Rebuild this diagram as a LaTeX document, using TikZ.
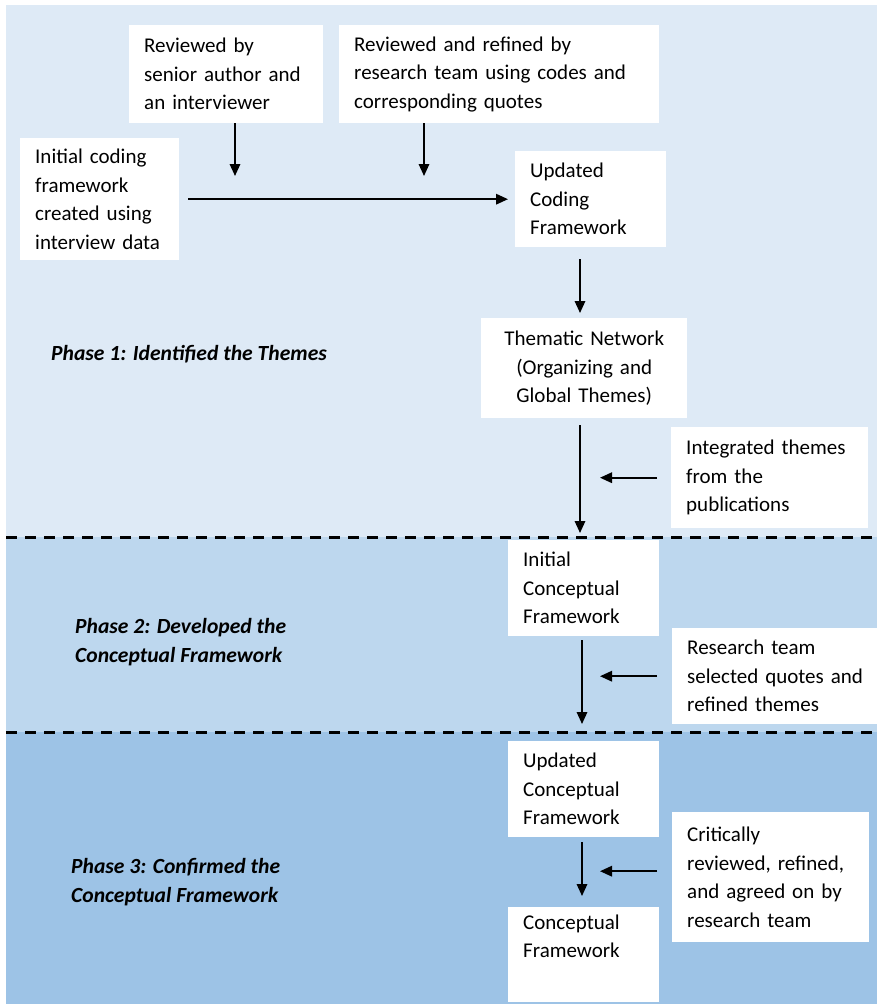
\documentclass[tikz,border=0pt]{standalone}
\usepackage{fontspec}
\setmainfont{Carlito}
\usetikzlibrary{arrows.meta}
\definecolor{phaseA}{HTML}{DEEAF6}
\definecolor{phaseB}{HTML}{BDD7EE}
\definecolor{phaseC}{HTML}{9DC3E6}
\begin{document}
\begin{tikzpicture}[x=1pt,y=-1pt,
  box/.style={fill=white, anchor=north west, inner xsep=15pt, inner ysep=0pt, align=left,
    font=\fontsize{21}{28.5}\selectfont},
  arr/.style={line width=1.7pt, -{Triangle[length=12pt,width=10.5pt]}},
  sepline/.style={line width=3pt, dash pattern=on 11pt off 8pt},
  phase/.style={anchor=west, align=left, inner sep=0pt,
    font=\fontsize{21.6}{28.5}\selectfont\bfseries\itshape}]
\useasboundingbox (0,0) rectangle (877,1004);
% phase backgrounds
\fill[phaseA] (6,5) rectangle (877,537);
\fill[phaseB] (6,537) rectangle (877,732);
\fill[phaseC] (6,732) rectangle (877,1004);
\draw[sepline] (6,537) -- (877,537);
\draw[sepline] (6,732) -- (877,732);
% phase labels
\node[phase] (p1) at (51,354) {Phase 1: Identified the Themes};
\node[phase] (p2) at (75,642) {Phase 2: Developed the\\Conceptual Framework};
\node[phase] (p3) at (71,882) {Phase 3: Confirmed the\\Conceptual Framework};
% boxes
\node[box, text width=164pt, minimum height=98pt] (rev1) at (129,25) {Reviewed by\\senior author and\\an interviewer};
\node[box, text width=290pt, minimum height=98pt] (rev2) at (339,25) {Reviewed and refined by\\research team using codes and\\corresponding quotes};
\node[box, text width=129pt, minimum height=122pt] (init) at (20,138) {Initial coding\\framework\\created using\\interview data};
\node[box, text width=121pt, minimum height=96pt] (upd) at (515,151) {Updated\\Coding\\Framework};
\node[box, text width=176pt, minimum height=100pt, align=center] (them) at (481,318) {Thematic Network\\(Organizing and\\Global Themes)};
\node[box, text width=167pt, minimum height=101pt] (integ) at (671,427) {Integrated themes\\from the\\publications};
\node[box, text width=121pt, minimum height=96pt] (ic) at (508,540) {Initial\\Conceptual\\Framework};
\node[box, text width=178pt, minimum height=96pt] (rt) at (672,628) {Research team\\selected quotes and\\refined themes};
\node[box, text width=121pt, minimum height=96pt] (uc) at (508,741) {Updated\\Conceptual\\Framework};
\node[box, text width=167pt, minimum height=130pt] (crit) at (672,812) {Critically\\reviewed, refined,\\and agreed on by\\research team};
\node[box, text width=121pt, minimum height=95pt] (cf) at (508,907) {Conceptual\\Framework\\\strut};
% helper coordinates
\coordinate (j1) at (235,176);
\coordinate (j2) at (424,176);
\coordinate (colA) at (580,0);
\coordinate (colB) at (582,0);
% connectors
\draw[arr, shorten <=9pt, shorten >=7pt] (init.east) -- (upd.west);
\draw[arr] (j1 |- rev1.south) -- (j1);
\draw[arr] (j2 |- rev2.south) -- (j2);
\draw[arr, shorten <=12pt, shorten >=5pt] (upd.south -| colA) -- (them.north -| colA);
\draw[arr, shorten <=7pt, shorten >=7pt] (them.south -| colA) -- (ic.north -| colA);
\draw[arr, shorten <=4pt, shorten >=17pt] (ic.south -| colB) -- (uc.north -| colB);
\draw[arr, shorten <=5pt, shorten >=11pt] (uc.south -| colB) -- (cf.north -| colB);
\draw[arr, shorten <=14pt, shorten >=20pt] (integ.west) -- (integ.west -| colA);
\draw[arr, shorten <=15pt, shorten >=18pt] (rt.west) -- (rt.west -| colB);
\draw[arr, shorten <=15pt, shorten >=18pt] ([yshift=6pt]crit.west) -- ([yshift=6pt]crit.west -| colB);
\end{tikzpicture}
\end{document}
